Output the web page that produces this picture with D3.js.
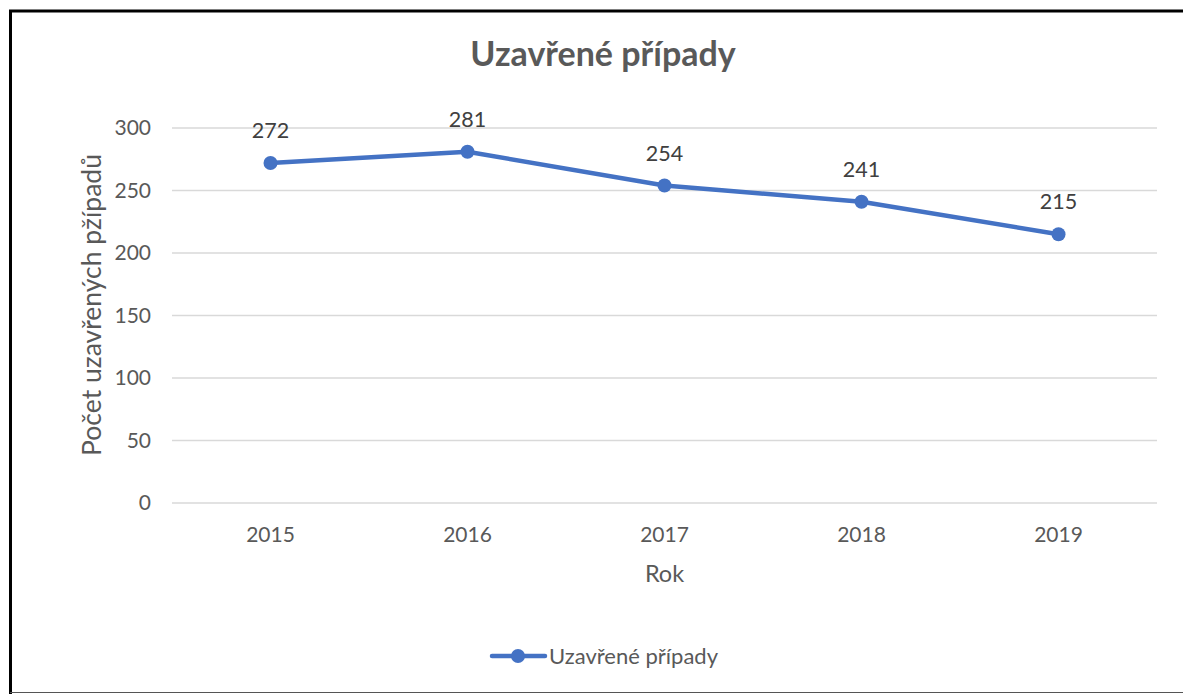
<!DOCTYPE html>
<html>
<head>
<meta charset="utf-8">
<script src="https://cdn.jsdelivr.net/npm/d3@7"></script>
<style>
  body { margin: 0; background: #fff; }
  text { font-family: Lato, "Open Sans", sans-serif; }
</style>
</head>
<body>
<div id="chart"></div>
<script>
// data
const years = ["2015", "2016", "2017", "2018", "2019"]
const closedCases = [272, 281, 254, 241, 215]
const yTicks = [0, 50, 100, 150, 200, 250, 300]
const seriesName = "Uzavřené případy"

const w = 1183
const h = 694
const margin = {top: 128, left: 172, right: 26, bottom: 191}
const innerWidth = w - margin.left - margin.right
const innerHeight = h - margin.top - margin.bottom
const blue = "#4472C4"
const gray = "#595959"
const font = "Lato, 'Open Sans', sans-serif"

const svg = d3.select("#chart")
    .append("svg")
    .attr("width", w)
    .attr("height", h)

// outer frame
svg.append("path")
    .attr("d", "M10.5,694 V11 H1183")
    .attr("fill", "none")
    .attr("stroke", "#000")
    .attr("stroke-width", 3)
svg.append("line")
    .attr("x1", 10).attr("x2", 1183)
    .attr("y1", 692.5).attr("y2", 692.5)
    .attr("stroke", "#555")
    .attr("stroke-width", 1)

const frame = svg.append("g")
    .attr("transform", `translate(${margin.left},${margin.top})`)

const x = d3.scaleBand()
    .domain(years)
    .range([0, innerWidth])

const y = d3.scaleLinear()
    .domain([0, 300])
    .range([innerHeight, 0])

// gridlines
frame.append("g")
    .selectAll("line")
    .data(yTicks)
    .enter().append("line")
    .attr("x1", 0)
    .attr("x2", innerWidth)
    .attr("y1", d => y(d))
    .attr("y2", d => y(d))
    .attr("stroke", "#d9d9d9")
    .attr("stroke-width", 1.5)

// y axis labels
const yAxis = frame.append("g")
    .call(d3.axisLeft(y).tickValues(yTicks).tickSize(0).tickPadding(21))
    .attr("font-size", 21)
    .attr("font-family", font)
yAxis.select(".domain").remove()
yAxis.selectAll("text").attr("fill", gray)

// x axis labels
const xAxis = frame.append("g")
    .attr("transform", `translate(0,${innerHeight})`)
    .call(d3.axisBottom(x).tickSize(0).tickPadding(24))
    .attr("font-size", 21)
    .attr("font-family", font)
xAxis.select(".domain").remove()
xAxis.selectAll("text").attr("fill", gray)

// title
svg.append("text")
    .attr("x", 603)
    .attr("y", 66)
    .attr("text-anchor", "middle")
    .attr("fill", gray)
    .style("font-size", "34px")
    .style("font-weight", "bold")
    .text(seriesName)

// axis titles
svg.append("text")
    .attr("x", margin.left + innerWidth / 2)
    .attr("y", 582)
    .attr("text-anchor", "middle")
    .attr("fill", gray)
    .style("font-size", "23.5px")
    .text("Rok")

svg.append("text")
    .attr("transform", "translate(101,305) rotate(-90)")
    .attr("text-anchor", "middle")
    .attr("fill", gray)
    .style("font-size", "26.5px")
    .text("Počet uzavřených pžípadů")

// line
const line = d3.line()
    .x((d, i) => x(years[i]) + x.bandwidth() / 2)
    .y(d => y(d))

frame.append("path")
    .datum(closedCases)
    .attr("d", line)
    .attr("fill", "none")
    .attr("stroke", blue)
    .attr("stroke-width", 4.5)
    .attr("stroke-linejoin", "round")
    .attr("stroke-linecap", "round")

frame.selectAll("circle")
    .data(closedCases)
    .enter().append("circle")
    .attr("cx", (d, i) => x(years[i]) + x.bandwidth() / 2)
    .attr("cy", d => y(d))
    .attr("r", 7)
    .attr("fill", blue)

// data labels
frame.selectAll(".label")
    .data(closedCases)
    .enter().append("text")
    .attr("class", "label")
    .attr("x", (d, i) => x(years[i]) + x.bandwidth() / 2)
    .attr("y", d => y(d) - 25)
    .attr("text-anchor", "middle")
    .attr("fill", "#404040")
    .style("font-size", "21.5px")
    .text(d => d)

// legend
const legend = svg.append("g")
    .attr("transform", "translate(490,656)")
legend.append("line")
    .attr("x1", 2).attr("x2", 55)
    .attr("y1", 0).attr("y2", 0)
    .attr("stroke", blue)
    .attr("stroke-width", 4.5)
    .attr("stroke-linecap", "round")
legend.append("circle")
    .attr("cx", 28).attr("cy", 0)
    .attr("r", 7)
    .attr("fill", blue)
legend.append("text")
    .attr("x", 59)
    .attr("y", 8)
    .attr("fill", gray)
    .style("font-size", "22px")
    .text(seriesName)
</script>
</body>
</html>
